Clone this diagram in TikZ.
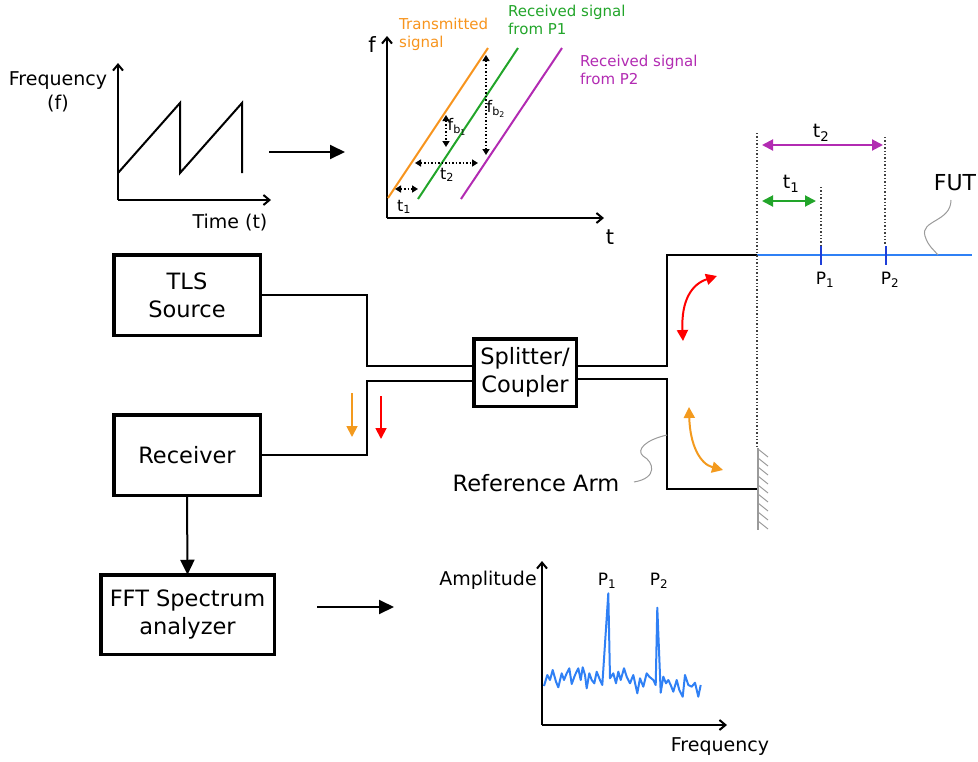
\documentclass[tikz,border=0pt]{standalone}
\usepackage{fontspec}
\setmainfont{DejaVu Sans}
\usetikzlibrary{arrows.meta}
\definecolor{myorange}{HTML}{F7941D}
\definecolor{mygreen}{HTML}{22A52A}
\definecolor{mypurple}{HTML}{B22BB2}
\definecolor{myblue}{HTML}{2F80F5}
\definecolor{tickblue}{HTML}{1F3FD8}
\definecolor{arrorange}{HTML}{F39A1E}
\definecolor{leadergray}{HTML}{9A9A9A}
\begin{document}
\begin{tikzpicture}[x=1pt,y=-1pt,
  box/.style={draw, line width=3.5pt, align=center, inner sep=0pt, outer sep=0pt,
    font=\fontsize{22.5}{28}\selectfont},
  conn/.style={line width=2pt},
  axis/.style={line width=2pt, -{Straight Barb[length=6pt,width=10pt]}},
  bigarrow/.style={line width=2pt, -{Triangle[length=15pt,width=14pt]}},
  lblmid/.style={font=\fontsize{19}{24.5}\selectfont, align=center, inner sep=0pt},
  lblsmall/.style={font=\fontsize{15}{18}\selectfont, align=left, inner sep=0pt, anchor=west},
  lbltiny/.style={font=\fontsize{16}{18}\selectfont, inner sep=0pt},
  dotarrow/.style={line width=1.5pt, dotted, {Triangle[length=6pt,width=7pt]}-{Triangle[length=6pt,width=7pt]}},
  dotline/.style={line width=1.4pt, dotted, black!75},
  colarrow/.style={line width=2pt, {Triangle[length=11pt,width=11pt]}-{Triangle[length=11pt,width=11pt]}},
  leader/.style={leadergray, line width=1pt},
]
\useasboundingbox (0,0) rectangle (978,761);

% ---------- sawtooth graph (top left) ----------
\draw[axis] (118,200) -- (118,63);
\draw[axis] (118,200) -- (271,200);
\draw[line width=2pt] (118,173) -- (180,103) -- (180,173) -- (242,103) -- (242,173);
\node[lblmid] (freqlbl) at (58,92) {Frequency\\(f)};
\node[lblmid] (timelbl) at (230,223) {Time (t)};
\coordinate (sawout) at (269,152);
\coordinate (graphin) at (345,152);
\draw[bigarrow] (sawout) -- (graphin);

% ---------- f-t graph (top centre) ----------
\draw[axis] (387,218) -- (387,36);
\draw[axis] (387,218) -- (604,218);
\node[lblmid, font=\fontsize{21}{24}\selectfont] (flbl) at (372,45) {f};
\node[lblmid, font=\fontsize{21}{24}\selectfont] (tlbl) at (610,237) {t};
\draw[myorange, line width=2pt] (388,198) -- (488,48);
\draw[mygreen, line width=2pt] (418,199) -- (518,48);
\draw[mypurple, line width=2pt] (461,199) -- (562,48);
\node[lblsmall, text=myorange] (txlbl) at (399,34) {Transmitted\\signal};
\node[lblsmall, text=mygreen] (rx1lbl) at (508,20) {Received signal\\from P1};
\node[lblsmall, text=mypurple] (rx2lbl) at (580,70) {Received signal\\from P2};
\draw[dotarrow] (395,189) -- (418,189);
\node[lbltiny] (t1g) at (404,207) {t\textsubscript{1}};
\draw[dotarrow] (415,163) -- (478,163);
\node[lbltiny] (t2g) at (447,175) {t\textsubscript{2}};
\draw[dotarrow] (446,115) -- (446,147);
\node[lbltiny] (fb1) at (457,127) {f\textsubscript{b\textsubscript{1}}};
\draw[dotarrow] (486,55) -- (486,155);
\node[lbltiny] (fb2) at (496,109) {f\textsubscript{b\textsubscript{2}}};

% ---------- boxes ----------
\node[box, minimum width=146.5pt, minimum height=80.5pt] (tls) at (187,295) {TLS\\Source};
\node[box, minimum width=146.5pt, minimum height=80.5pt] (rec) at (187,455) {Receiver};
\node[box, minimum width=173.5pt, minimum height=79.5pt] (fft) at (187.5,614.5) {FFT Spectrum\\analyzer};
\node[box, minimum width=102.5pt, minimum height=67.5pt] (split) at (525,372.5) {Splitter/\\Coupler};

% ---------- fibres ----------
\draw[conn] (tls.east) -- (367,295) |- ([yshift=6.5pt]split.west);
\draw[conn] ([yshift=-8.5pt]split.west) -| (367,455) -- (rec.east);
\coordinate (fibstart) at (757,255);
\coordinate (fibend) at (972,255);
\coordinate (mirror) at (757,489);
\draw[conn] ([yshift=6.5pt]split.east) -| (667,255) -- (fibstart);
\draw[conn] ([yshift=-6.5pt]split.east) -| (667,489) -- (mirror);
\draw[myblue, line width=2pt] (fibstart) -- (fibend);
\draw[tickblue, line width=2.5pt] (821,246) -- (821,265);
\draw[tickblue, line width=2.5pt] (886,246) -- (886,265);
\node[lbltiny, font=\fontsize{17}{19}\selectfont] (p1f) at (825,280) {P\textsubscript{1}};
\node[lbltiny, font=\fontsize{17}{19}\selectfont] (p2f) at (890,280) {P\textsubscript{2}};

% dotted references
\draw[dotline] (757,133) -- (757,448);
\draw[dotline] (821,187) -- (821,245);
\draw[dotline] (885,137) -- (885,245);
\draw[colarrow, mypurple] (762,145) -- (883,145);
\node[lbltiny, font=\fontsize{19}{21}\selectfont] (t2r) at (821,133) {t\textsubscript{2}};
\draw[colarrow, mygreen] (762,201) -- (816,201);
\node[lbltiny, font=\fontsize{19}{21}\selectfont] (t1r) at (791,184) {t\textsubscript{1}};

% FUT label
\node[inner sep=0pt, font=\fontsize{22}{26}\selectfont] (fut) at (955,183) {FUT};
\draw[leader] (951,200) .. controls (951,222) and (920,220) .. (925,236) .. controls (928,246) and (934,250) .. (938,255);

% mirror
\draw[leadergray, line width=1.3pt] (758,448) -- (758,530);
\foreach \yy in {449,458,...,521} \draw[leadergray, line width=1pt] (758,\yy) -- ++(10,8);

% curved arrows
\draw[colarrow, red] (683,341) .. controls (681,300) and (692,284) .. (717,276);
\draw[colarrow, arrorange] (689,407) .. controls (690,445) and (700,464) .. (723,470);
\draw[line width=1.8pt, arrorange, -{Triangle[length=11pt,width=11pt]}] (352,393) -- (352,437);
\draw[line width=1.8pt, red, -{Triangle[length=11pt,width=11pt]}] (381,396) -- (381,439);

% reference arm
\node[inner sep=0pt, font=\fontsize{22.5}{26}\selectfont] (refarm) at (536,483) {Reference Arm};
\draw[leader] (634,482) .. controls (658,478) and (654,462) .. (643,456) .. controls (636,450) and (645,440) .. (667,435);

% receiver -> FFT, FFT -> spectrum
\draw[bigarrow] (rec.south) -- (fft.north);
\coordinate (fftout) at (317,607);
\coordinate (specin) at (394,607);
\draw[bigarrow] (fftout) -- (specin);

% ---------- spectrum ----------
\draw[axis] (542,725) -- (542,561);
\draw[axis] (542,725) -- (727,725);
\node[lblmid] (amplbl) at (488,580) {Amplitude};
\node[lblmid] (freqlbl2) at (720,747) {Frequency};
\node[lbltiny, font=\fontsize{17}{19}\selectfont] (p1s) at (607,581) {P\textsubscript{1}};
\node[lbltiny, font=\fontsize{17}{19}\selectfont] (p2s) at (659,581) {P\textsubscript{2}};
\draw[myblue, line width=2pt, line join=round] (544.0,686.0) -- (547.3,675.0) -- (550.0,680.0) -- (552.7,670.0) -- (556.0,681.7) -- (558.3,687.3) -- (561.7,673.3) -- (564.0,680.0) -- (566.7,673.3) -- (569.3,668.3) -- (571.7,684.0) -- (575.0,675.0) -- (578.3,668.3) -- (580.7,680.0) -- (582.7,667.3) -- (585.0,675.0) -- (586.7,688.3) -- (589.3,673.3) -- (591.7,680.0) -- (594.3,683.3) -- (596.7,671.7) -- (600.0,680.0) -- (602.3,685.0) -- (608.3,593.3) -- (610.0,678.3) -- (613.3,673.3) -- (616.0,683.3) -- (618.3,671.7) -- (620.7,680.0) -- (624.0,668.3) -- (626.7,676.7) -- (630.0,683.3) -- (633.3,675.0) -- (637.3,693.3) -- (640.0,678.3) -- (643.3,686.7) -- (646.7,673.3) -- (649.3,676.7) -- (653.3,680.0) -- (655.7,685.0) -- (657.3,607.7) -- (660.7,692.7) -- (663.3,676.7) -- (666.0,683.3) -- (668.3,680.0) -- (670.7,685.0) -- (673.3,691.7) -- (676.7,680.0) -- (679.3,690.0) -- (682.7,696.7) -- (685.0,675.0) -- (688.3,685.0) -- (691.7,686.7) -- (695.0,682.7) -- (698.3,696.7) -- (700.7,685.0);
\end{tikzpicture}
\end{document}
